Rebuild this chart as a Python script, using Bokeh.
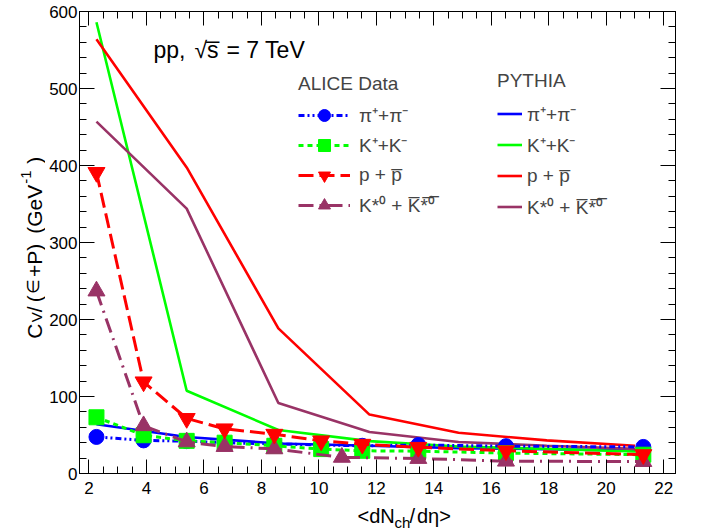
import math
from bokeh.plotting import figure
from bokeh.layouts import row, column
from bokeh.models import (Range1d, LinearAxis, Label, Legend, LegendItem,
                          SingleIntervalTicker, CustomLabelingPolicy)
from bokeh.embed import file_html
from bokeh.resources import INLINE

# ---------------- data ----------------
x_alice = [2.26, 3.90, 5.40, 6.72, 8.45, 10.08, 11.51, 13.46, 16.51, 21.29]
pi_alice = [47.5, 43, 42, 40, 38.5, 37, 36, 37, 35.5, 34.5]
k_alice = [73, 49.7, 42.4, 40, 36, 31.7, 29.5, 29, 26.5, 24.4]
p_alice = [391, 119, 71.5, 58, 51, 42.4, 38, 34, 29.5, 24.5]
x_kstar = [2.26, 3.90, 5.40, 6.72, 8.45, 10.8, 13.46, 16.51, 21.29]
kstar_alice = [237, 62, 41, 35, 32, 21, 19.5, 16, 15.5]

x_pythia = [2.26, 5.40, 8.59, 11.76, 14.86, 17.93, 21.0]
pi_pythia = [64, 47.5, 39, 36, 33, 31.5, 30]
k_pythia = [586, 107.5, 56.5, 42, 35, 32, 28.5]
p_pythia = [564, 397.5, 188.5, 76.5, 53, 43, 36]
kstar_pythia = [457, 344, 91.5, 54, 41, 36, 32]

labels = ["π⁺+π⁻", "K⁺+K⁻", "p + p\u0305", "K*⁰ + K\u0305*\u0305⁰\u0305"]

BLUE, GREEN, RED, MAG = "#0000ff", "#00ff00", "#ff0000", "#993366"
FONT = "Liberation Sans"

W, H = 704, 529
YT_W = 45            # strip for the y-axis title
XT_TOP = 501         # top of strip for the x-axis title
FL, FR, FT, FB = 79, 675, 5, 473   # frame in page pixels

MW, MH = W - YT_W, XT_TOP
p = figure(width=MW, height=MH, x_range=Range1d(1.67, 22.41), y_range=Range1d(0, 600),
           output_backend="svg", toolbar_location=None,
           min_border_left=FL - YT_W, min_border_right=W - FR, min_border_top=FT,
           min_border_bottom=MH - FB)
p.grid.visible = False
p.outline_line_color = "black"
p.outline_line_width = 1
p.background_fill_color = "white"
p.border_fill_color = "white"

bottom = p.below[0]
left = p.left[0]
xt = SingleIntervalTicker(interval=2, num_minor_ticks=4)
yt = SingleIntervalTicker(interval=100, num_minor_ticks=5)
bottom.ticker = xt
left.ticker = yt
right = LinearAxis(ticker=yt, major_label_policy=CustomLabelingPolicy(code="return new Set()"),
                   major_label_standoff=0)
above = LinearAxis(ticker=xt, major_label_policy=CustomLabelingPolicy(code="return new Set()"),
                   major_label_standoff=0)
p.add_layout(right, "right")
p.add_layout(above, "above")

for ax, L in [(bottom, 14), (above, 14), (left, 15), (right, 15)]:
    ax.major_tick_in = L
    ax.major_tick_out = 0
    ax.minor_tick_in = L // 2
    ax.minor_tick_out = 0
    ax.axis_line_color = "black"
    ax.major_tick_line_color = "black"
    ax.minor_tick_line_color = "black"
    ax.major_label_text_font = FONT
    ax.major_label_text_color = "black"
    ax.axis_label = None
bottom.major_label_text_font_size = "17px"
left.major_label_text_font_size = "17px"
bottom.major_label_standoff = 8
left.major_label_standoff = 2

# PYTHIA curves
py_r = []
for ys, c in [(pi_pythia, BLUE), (k_pythia, GREEN), (p_pythia, RED), (kstar_pythia, MAG)]:
    py_r.append(p.line(x_pythia, ys, line_color=c, line_width=2.6))

# ALICE data
specs = [
    (x_alice, pi_alice, BLUE, "6 3 2 3 2 3", "circle", 15),
    (x_alice, k_alice, GREEN, "5 4", "square", 15),
    (x_kstar, kstar_alice, MAG, "15 6 2 6", "triangle", 17),
    (x_alice, p_alice, RED, "15 6", "inverted_triangle", 17),
]
al_r = []
for xs, ys, c, dash, mk, sz in specs:
    l = p.line(xs, ys, line_color=c, line_width=3, line_dash=dash)
    m = p.scatter(xs, ys, marker=mk, size=sz, fill_color=c, line_color=c)
    al_r.append([l, m])
al_r_ordered = [al_r[0], al_r[1], al_r[3], al_r[2]]

leg_alice = Legend(items=[LegendItem(label=lab, renderers=rs) for lab, rs in zip(labels, al_r_ordered)],
                   location=(298 - FL, FB - 220), title="ALICE Data",
                   title_text_font=FONT, title_text_font_size="19px", title_text_font_style="normal",
                   label_text_font=FONT, label_text_font_size="19px",
                   glyph_width=52, glyph_height=30, label_height=20, spacing=0,
                   label_standoff=9, title_standoff=5, padding=0, margin=0,
                   border_line_alpha=0, background_fill_alpha=0)
leg_py = Legend(items=[LegendItem(label=lab, renderers=[r]) for lab, r in zip(labels, py_r)],
                location=(497 - FL, FB - 222), title="PYTHIA",
                title_text_font=FONT, title_text_font_size="19px", title_text_font_style="normal",
                label_text_font=FONT, label_text_font_size="19px",
                glyph_width=25, glyph_height=31, label_height=20, spacing=0,
                label_standoff=5, title_standoff=6, padding=0, margin=0,
                border_line_alpha=0, background_fill_alpha=0)
p.add_layout(leg_alice)
p.add_layout(leg_py)


def lab(fig, fx0, fy1, text, cx, cy, size, angle=0.0):
    """Place a text at page pixel (cx, cy) inside a figure frame
    whose left edge is fx0 and bottom edge is fy1 (page pixels)."""
    fig.add_layout(Label(x=cx - fx0, y=fy1 - cy, x_units="screen", y_units="screen", text=text,
                         text_font=FONT, text_font_size=f"{size}px", text_color="black",
                         text_align="left", text_baseline="alphabetic", angle=angle))


lab(p, FL, FB, "pp,", 153, 49, 23)
lab(p, FL, FB, "√s\u0305", 194, 49, 23)
lab(p, FL, FB, "= 7 TeV", 226, 49, 23)


def helper(w, h):
    f = figure(width=w, height=h, x_range=Range1d(0, 1), y_range=Range1d(0, 1),
               x_axis_location=None, y_axis_location=None, output_backend="svg",
               toolbar_location=None, min_border=0)
    f.grid.visible = False
    f.outline_line_color = None
    f.background_fill_color = "white"
    f.border_fill_color = "white"
    return f


# y axis title: C_V/(∈ +P) (GeV^-1)
yfig = helper(YT_W, H)
A = math.pi / 2
for text, bx, sy, size in [("C", 33.5, 338.3, 21), ("V", 35.5, 321.7, 15), ("/", 33.5, 311.7, 21),
                           ("(", 33.5, 301.7, 21), ("∈", 33, 293.5, 17), ("+P)", 33.5, 276.5, 21),
                           ("(GeV", 33.5, 233.3, 21), ("-1", 25, 183.3, 15), (")", 33.5, 163.3, 21)]:
    lab(yfig, 0, H, text, bx, sy, size, A)

# x axis title: <dN_ch/dη>
xfig = helper(MW, H - XT_TOP)
for text, sx, by, size in [("<dN", 323, 515.5, 20), ("ch", 360, 521.5, 15),
                           ("/", 375, 515.5, 20), ("dη>", 382.5, 515.5, 20)]:
    lab(xfig, YT_W, H, text, sx, by, size)

layout = row(yfig, column(p, xfig, spacing=0), spacing=0)
open("out.html", "w").write(file_html(layout, INLINE))
